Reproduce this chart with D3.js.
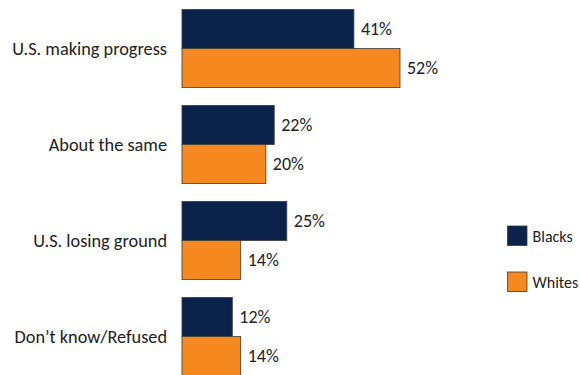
<!DOCTYPE html>
<html>
<head>
<meta charset="utf-8">
<script src="https://cdn.jsdelivr.net/npm/d3@7"></script>
<style>
  html, body { margin: 0; padding: 0; background: #fff; }
  svg { display: block; font-family: Calibri, Carlito, "Open Sans", sans-serif; }
</style>
</head>
<body>
<svg id="chart" width="580" height="375"></svg>
<script>
// Views on racial progress, by race
const categories = ["U.S. making progress", "About the same", "U.S. losing ground", "Don\u2019t know/Refused"];
const seriesNames = ["Blacks", "Whites"];
const blacks = [41, 22, 25, 12];
const whites = [52, 20, 14, 14];
const colors = ["#0b234b", "#f5891f"];

const svg = d3.select("#chart");
const values = [blacks, whites];

const x = d3.scaleLinear().domain([0, 52]).range([182, 400]);
const y = d3.scaleBand().domain(categories).range([9.5, 375.5]).paddingInner(0.1875).paddingOuter(0);
const ySub = d3.scaleBand().domain(seriesNames).range([0, y.bandwidth()]);

const groups = svg.selectAll("g.group")
  .data(categories)
  .join("g")
  .attr("class", "group")
  .attr("transform", d => `translate(0,${y(d)})`);

seriesNames.forEach((s, si) => {
  groups.append("rect")
    .attr("x", x(0))
    .attr("y", ySub(s))
    .attr("width", (d, i) => x(values[si][i]) - x(0))
    .attr("height", ySub.bandwidth())
    .attr("fill", colors[si])
    .attr("stroke", "#3a3a3a")
    .attr("stroke-width", 0.8);

  groups.append("text")
    .attr("x", (d, i) => x(values[si][i]) + 7)
    .attr("y", ySub(s) + ySub.bandwidth() / 2)
    .attr("dy", "0.35em")
    .attr("font-size", 18)
    .attr("fill", "#222")
    .text((d, i) => values[si][i] + "%");
});

// Category labels
groups.append("text")
  .attr("x", 167)
  .attr("y", y.bandwidth() / 2)
  .attr("dy", "0.35em")
  .attr("text-anchor", "end")
  .attr("font-size", 18.3)
  .attr("fill", "#222")
  .text(d => d);

// Legend
const legend = svg.append("g").attr("transform", "translate(507.5,226)");
const items = legend.selectAll("g")
  .data(seriesNames)
  .join("g")
  .attr("transform", (d, i) => `translate(0,${i * 46})`);
items.append("rect")
  .attr("width", 19.5).attr("height", 19.5)
  .attr("fill", (d, i) => colors[i])
  .attr("stroke", "#3a3a3a").attr("stroke-width", 0.8);
items.append("text")
  .attr("x", 25).attr("y", 10).attr("dy", "0.35em")
  .attr("font-size", 16)
  .attr("fill", "#222")
  .text(d => d);
</script>
</body>
</html>
